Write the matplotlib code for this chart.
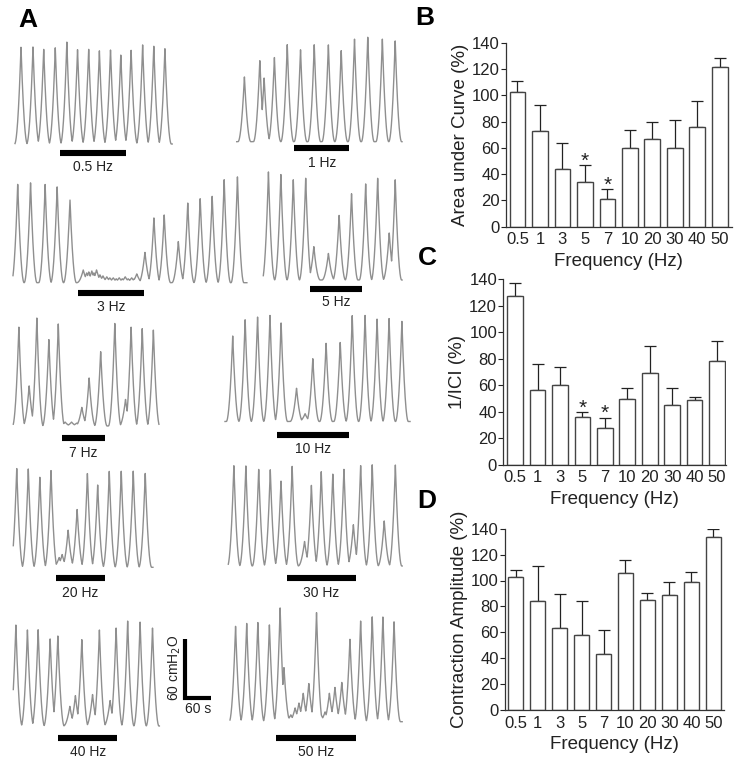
import matplotlib
matplotlib.use("Agg")
import matplotlib.pyplot as plt
import numpy as np

plt.rcParams['font.family'] = ['Liberation Sans', 'DejaVu Sans']

# ---- panel A: contraction traces (peak time s, peak amplitude cmH2O) ----
trace_names = ["0.5 Hz", "1 Hz", "3 Hz", "5 Hz", "7 Hz",
               "10 Hz", "20 Hz", "30 Hz", "40 Hz", "50 Hz"]

t05 = [14, 42, 67, 94, 121, 146, 172, 197, 223, 247, 271, 298, 324, 350]
a05 = [99, 99, 97, 98, 104, 96, 97, 95, 96, 91, 96, 101, 100, 97]
t1 = [18, 54, 64, 88, 118, 149, 181, 214, 244, 275, 306, 340, 370]
a1 = [66, 83, 65, 86, 99, 94, 99, 99, 93, 105, 107, 105, 103]
t3 = [11, 41, 75, 103, 133, 164, 172, 177, 184, 189, 195, 203, 210, 219, 226,
      234, 241, 248, 255, 262, 269, 277, 283, 289, 308, 329, 353, 386, 408,
      437, 465, 493, 524]
a3 = [101, 102, 100, 98, 85, 13, 10, 11, 12, 10, 13, 8, 7, 6, 5,
      5, 4, 5, 4, 6, 4, 5, 4, 9, 31, 66, 69, 42, 81,
      86, 88, 105, 108]
t5 = [12, 41, 70, 99, 118, 152, 177, 206, 239, 267, 294, 308]
a5 = [110, 108, 102, 104, 34, 27, 66, 88, 98, 104, 48, 102]
t7 = [13, 37, 55, 83, 105, 121, 136, 148, 160, 177, 204, 237, 262, 275, 301, 327]
a7 = [101, 41, 110, 88, 104, 4, 4, 3, 19, 49, 76, 105, 27, 101, 99, 98]
t10 = [18, 47, 76, 105, 131, 167, 187, 205, 236, 269, 297, 327, 355, 383, 413]
a10 = [87, 104, 107, 108, 101, 34, 8, 64, 80, 81, 108, 108, 105, 105, 102]
t20 = [8, 35, 62, 88, 107, 114, 128, 149, 173, 197, 224, 252, 280, 308]
a20 = [101, 100, 92, 99, 10, 13, 38, 59, 96, 84, 98, 98, 98, 96]
t30 = [13, 41, 71, 98, 123, 149, 178, 194, 217, 244, 270, 292, 309, 336, 364, 390]
a30 = [102, 102, 99, 98, 87, 102, 25, 82, 96, 94, 99, 42, 103, 103, 46, 103]
t40 = [6, 33, 58, 86, 104, 132, 145, 160, 185, 201, 226, 240, 267, 296, 325]
a40 = [103, 98, 98, 89, 92, 20, 31, 88, 32, 98, 26, 100, 107, 106, 100]
t50 = [13, 39, 65, 92, 117, 126, 133, 142, 152, 161, 171, 184, 202, 212, 222,
       232, 245, 261, 280, 305, 332, 357, 383]
a50 = [97, 100, 101, 99, 116, 55, 8, 7, 14, 19, 29, 39, 111, 8, 10,
       29, 35, 40, 84, 103, 107, 107, 102]

peak_times = [t05, t1, t3, t5, t7, t10, t20, t30, t40, t50]
peak_amps = [a05, a1, a3, a5, a7, a10, a20, a30, a40, a50]
trace_len = [367, 386, 546, 324, 340, 432, 326, 406, 341, 402]  # s
stim_on = [105, 134, 151, 109, 114, 121, 99, 138, 105, 107]       # s
stim_off = [259, 263, 306, 231, 214, 290, 214, 297, 243, 293]     # s

# ---- panels B-D ----
freqs = ["0.5", "1", "3", "5", "7", "10", "20", "30", "40", "50"]
auc = [102.3, 72.6, 44.2, 34.0, 21.0, 60.2, 66.8, 59.6, 75.9, 121.3]
auc_err = [8.7, 19.8, 19.3, 12.7, 7.4, 13.2, 13.2, 21.4, 19.5, 7.1]
ici = [127.7, 56.2, 60.0, 35.8, 27.5, 49.4, 69.3, 44.8, 48.6, 78.0]
ici_err = [9.8, 20.1, 14.0, 4.0, 8.0, 8.3, 20.1, 12.9, 2.8, 15.2]
amp = [102.7, 84.1, 63.0, 57.6, 43.0, 105.5, 84.9, 89.0, 98.6, 133.3]
amp_err = [5.1, 27.3, 26.3, 26.5, 18.5, 10.5, 5.7, 9.6, 7.7, 6.2]
signif = [3, 4]

W, H = 740, 762
fig = plt.figure(figsize=(W / 100, H / 100), dpi=100)

ax0 = fig.add_axes([0, 0, 1, 1])
ax0.set_xlim(0, W)
ax0.set_ylim(H, 0)
ax0.axis('off')

PX_S = 25.7 / 60.0   # px per second
PX_CM = 59.0 / 60.0  # px per cmH2O
HALF_W = 15.0        # s, half width of one contraction

# left edge / baseline of each trace in px
places = [(15, 144), (236.7, 141.7), (13, 282.7), (263.3, 280), (13.3, 426),
          (225, 421.5), (13.3, 567.3), (228.3, 566), (13.3, 726), (230, 721.7)]
bar_y = [153, 148, 293, 288.7, 438, 434.5, 578, 578.3, 737.5, 737.5]
lab_y = [167, 162.7, 307, 301.7, 452.7, 449, 593, 592.7, 751.7, 751.7]

for i in range(len(trace_names)):
    x0, yb = places[i]
    t = np.linspace(0, trace_len[i], 3000)
    y = np.zeros_like(t)
    for tp, a in zip(peak_times[i], peak_amps[i]):
        u = np.clip(1 - np.abs(t - tp) / HALF_W, 0, None)
        y = np.maximum(y, a * u ** 2.0)
    ax0.plot(x0 + t * PX_S, yb - y * PX_CM, color='#8f8f8f', lw=1.0)
    bx0 = x0 + stim_on[i] * PX_S
    bx1 = x0 + stim_off[i] * PX_S
    ax0.plot([bx0, bx1], [bar_y[i], bar_y[i]], color='black', lw=4.4,
             solid_capstyle='butt')
    ax0.text((bx0 + bx1) / 2, lab_y[i], trace_names[i], ha='center',
             va='center', fontsize=10, color='#222222')

# scale bar
sx, sy = 185, 698
ax0.plot([sx, sx, sx + 60 * PX_S], [sy - 60 * PX_CM, sy, sy], color='black',
         lw=3, solid_joinstyle='miter', solid_capstyle='butt')
ax0.text(175, 668, "60 cmH$_2$O", rotation=90, ha='center', va='center',
         fontsize=10, color='#222222')
ax0.text(198, 709, "60 s", ha='center', va='center', fontsize=10,
         color='#222222')

for lab, (lx, ly) in zip("ABCD", [(28, 20), (425, 18), (427, 258), (427, 501)]):
    ax0.text(lx, ly, lab, ha='center', va='center', fontsize=19,
             fontweight='bold')


def bar_panel(rect, vals, errs, ylabel, xlim, stars):
    ax = fig.add_axes(rect)
    ax.set_facecolor('none')
    x = np.arange(len(freqs))
    ax.bar(x, vals, width=0.7, color='white', edgecolor='#444444',
           linewidth=1.0, zorder=2)
    ax.errorbar(x, vals, yerr=[np.zeros(len(errs)), errs], fmt='none',
                ecolor='#222222', elinewidth=0.9, capsize=4.5,
                capthick=0.9, zorder=1)
    for k in stars:
        ax.annotate("*", xy=(k, vals[k] + errs[k]), xytext=(0, -1),
                    textcoords='offset points', ha='center', va='baseline',
                    fontsize=15, color='#222222')
    ax.set_xlim(*xlim)
    ax.set_ylim(0, 140)
    ax.set_yticks(range(0, 141, 20))
    ax.set_xticks(x)
    ax.set_xticklabels(freqs)
    ax.tick_params(axis='y', direction='out', length=3.5, width=0.8, pad=1,
                   labelsize=12, colors='#222222')
    ax.tick_params(axis='x', length=0, pad=4, labelsize=12,
                   colors='#222222')
    for s in ['top', 'right']:
        ax.spines[s].set_visible(False)
    for s in ['left', 'bottom']:
        ax.spines[s].set_linewidth(0.9)
        ax.spines[s].set_color('#333333')
    ax.set_ylabel(ylabel, fontsize=13.5, color='#222222', labelpad=2)
    ax.set_xlabel("Frequency (Hz)", fontsize=13.5, color='#222222',
                  labelpad=4)
    return ax


bar_panel([506 / W, 1 - 226.7 / H, 225.7 / W, 184 / H], auc, auc_err,
          "Area under Curve (%)", (-0.51, 9.53), signif)
bar_panel([503.3 / W, 1 - 464.7 / H, 222.7 / W, 185.4 / H], ici, ici_err,
          "1/ICI (%)", (-0.53, 9.4), signif)
bar_panel([505 / W, 1 - 710 / H, 219 / W, 181.3 / H], amp, amp_err,
          "Contraction Amplitude (%)", (-0.48, 9.48), [])

fig.savefig("out.png", dpi=100)
